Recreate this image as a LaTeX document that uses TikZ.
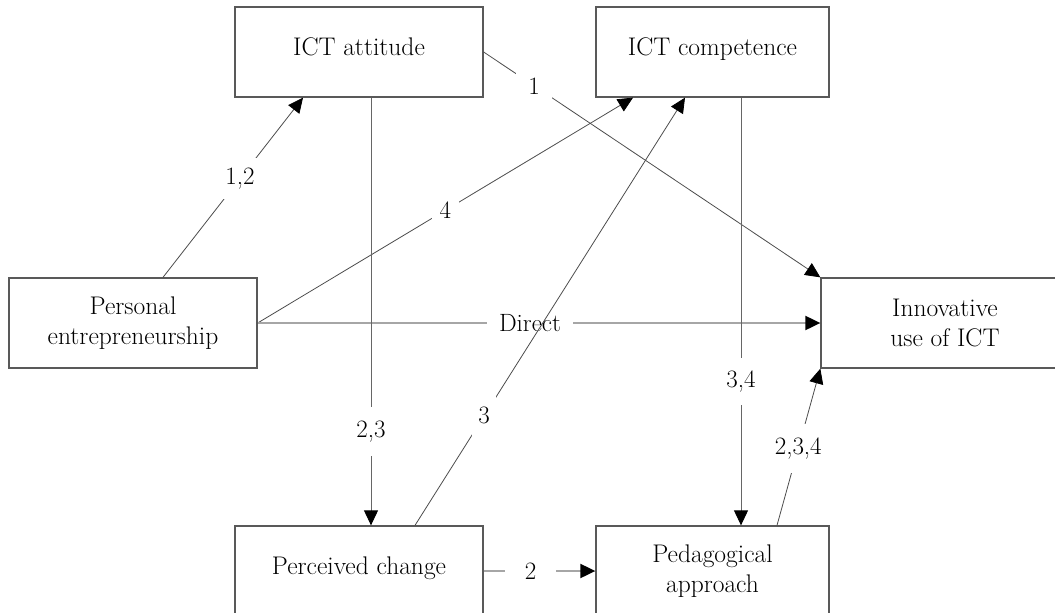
\documentclass[tikz,border=0pt]{standalone}
\usetikzlibrary{arrows.meta,calc}
\begin{document}
\begin{tikzpicture}[x=1pt,y=-1pt,
  box/.style={draw=black!65,line width=1.3pt,fill=white,inner sep=0pt,
    align=center,font=\fontsize{25.5}{30}\selectfont},
  oneline/.style={text height=17pt,text depth=10pt},
  wide/.style={box,minimum width=248pt,minimum height=90pt},
  narrow/.style={box,minimum width=233pt,minimum height=90pt},
  link/.style={draw=black!70,line width=0.8pt,
    -{Triangle[length=15pt,width=14pt,color=black]}},
  vlink/.style={link,draw=black!60,line width=1pt},
  hlink/.style={link,draw=black!35,line width=2pt},
  lab/.style={fill=white,inner sep=0pt,font=\fontsize{25}{28}\selectfont}]
\useasboundingbox (0,0) rectangle (1055,613);
\clip (0,0) rectangle (1055,613);

% constructs
\node[wide,oneline]   (att)  at (359,52)    {ICT attitude};
\node[narrow,oneline] (comp) at (712.5,52)  {ICT competence};
\node[wide]           (pe)   at (133,323)   {Personal\\entrepreneurship};
\node[wide]           (inno) at (945,323)   {Innovative\\use of ICT};
\node[wide,oneline]   (pc)   at (359,571)   {Perceived change};
\node[narrow]         (ped)  at (712.5,571) {Pedagogical\\approach};

% paths between constructs, labelled with the hypotheses
\draw[link] ([xshift=30pt]pe.north) -- ([xshift=-56pt]att.south)
  node[lab,pos=0.55,inner xsep=4pt,inner ysep=10pt] {1,2};
\draw[link] (pe.east) -- ([xshift=-79.5pt]comp.south)
  node[lab,pos=0.5,inner xsep=8pt,inner ysep=10pt] {4};
\draw[hlink] (pe.east) -- (inno.west)
  node[lab,pos=0.484,inner xsep=12pt,inner ysep=4pt] {Direct};
\draw[link] (att.east) -- (inno.north west)
  node[lab,pos=0.15,inner xsep=12pt,inner ysep=14pt] {1};
\draw[vlink] ([xshift=12pt]att.south) -- ([xshift=12pt]pc.north)
  node[lab,pos=0.78,inner xsep=4pt,inner ysep=14pt] {2,3};
\draw[link] ([xshift=56pt]pc.north) -- ([xshift=-27.5pt]comp.south)
  node[lab,pos=0.256,inner xsep=6pt,inner ysep=12pt] {3};
\draw[vlink] ([xshift=28.5pt]comp.south) -- ([xshift=28.5pt]ped.north)
  node[lab,pos=0.664,inner xsep=4pt,inner ysep=13pt] {3,4};
\draw[link] ([xshift=64.5pt]ped.north) -- (inno.south west)
  node[lab,pos=0.49,inner xsep=4pt,inner ysep=14pt] {2,3,4};
\draw[hlink] (pc.east) -- (ped.west)
  node[lab,pos=0.42,inner xsep=20pt,inner ysep=4pt] {2};
\end{tikzpicture}
\end{document}
